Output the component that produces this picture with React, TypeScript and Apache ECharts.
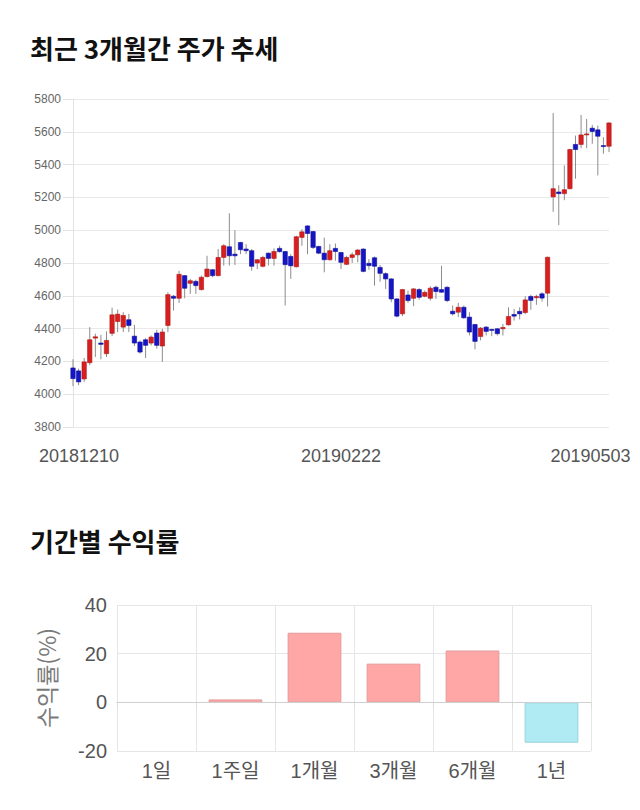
import React, { useEffect, useRef } from "react";
import * as echarts from "echarts";

const dates = [
  "20181210","20181211","20181212","20181213","20181214","20181217","20181218","20181219","20181220","20181221",
  "20181224","20181226","20181227","20181228",
  "20190102","20190103","20190104","20190107","20190108","20190109","20190110","20190111","20190114","20190115",
  "20190116","20190117","20190118","20190121","20190122","20190123","20190124","20190125","20190128","20190129",
  "20190130","20190131",
  "20190201","20190207","20190208","20190211","20190212","20190213","20190214","20190215","20190218","20190219",
  "20190220","20190221","20190222","20190225","20190226","20190227","20190228",
  "20190304","20190305","20190306","20190307","20190308","20190311","20190312","20190313","20190314","20190315",
  "20190318","20190319","20190320","20190321","20190322","20190325","20190326","20190327","20190328","20190329",
  "20190401","20190402","20190403","20190404","20190405","20190408","20190409","20190410","20190411","20190412",
  "20190415","20190416","20190417","20190418","20190419","20190422","20190423","20190424","20190425","20190426",
  "20190429","20190430",
  "20190502","20190503",
];

const opens = [
  4160,4142,4093,4192,4342,4312,4247,4371,4443,4409,
  4454,4354,4318,4332,4312,4373,4294,4419,4597,4585,
  4723,4676,4688,4638,4717,4759,4723,4834,4899,4854,
  4925,4885,4875,4800,4780,4860,4828,4889,4870,4840,
  4777,4956,5026,4992,4901,4860,4820,4889,4864,4792,
  4834,4850,4885,4798,4832,4773,4735,4703,4581,4490,
  4605,4585,4638,4597,4585,4652,4638,4652,4506,4500,
  4530,4470,4425,4352,4409,4395,4399,4399,4423,4486,
  4505,4498,4596,4588,4612,4616,5203,5233,5223,5253,
  5523,5523,5581,5622,5612,5516,5512,
];
const closes = [
  4095,4075,4197,4332,4350,4304,4328,4484,4488,4480,
  4419,4312,4257,4298,4348,4298,4379,4607,4585,4731,
  4646,4692,4662,4713,4763,4723,4834,4905,4844,4844,
  4881,4875,4780,4820,4834,4828,4870,4869,4790,4783,
  4960,4990,4980,4895,4860,4820,4875,4870,4804,4834,
  4850,4879,4749,4784,4780,4737,4703,4581,4476,4638,
  4571,4642,4591,4621,4646,4626,4622,4571,4490,4530,
  4466,4379,4322,4403,4383,4389,4369,4407,4474,4476,
  4490,4575,4572,4596,4586,4835,5253,5223,5247,5492,
  5492,5581,5587,5602,5573,5510,5654,
];
const lows = [
  4049,4055,4075,4176,4227,4213,4227,4354,4379,4379,
  4379,4294,4247,4221,4298,4278,4197,4379,4510,4557,
  4585,4612,4612,4632,4713,4713,4719,4784,4784,4788,
  4854,4854,4753,4763,4773,4784,4784,4864,4541,4703,
  4773,4905,4854,4885,4854,4743,4814,4814,4763,4788,
  4800,4804,4743,4759,4662,4686,4642,4561,4468,4476,
  4557,4537,4577,4591,4571,4581,4618,4561,4480,4470,
  4460,4358,4273,4328,4358,4354,4358,4358,4419,4449,
  4456,4488,4515,4545,4565,4535,5112,5031,5183,5249,
  5314,5500,5500,5527,5334,5466,5476,
];
const highs = [
  4213,4156,4221,4409,4369,4362,4383,4528,4516,4500,
  4490,4423,4328,4342,4358,4393,4399,4622,4605,4753,
  4727,4703,4698,4723,4844,4763,4885,4915,5103,5000,
  4929,4915,4885,4824,4844,4864,4889,4905,4874,4854,
  4966,5006,5030,4996,4905,4955,4915,4919,4868,4844,
  4864,4885,4889,4824,4840,4788,4743,4707,4585,4642,
  4632,4646,4646,4632,4658,4662,4783,4658,4541,4557,
  4541,4500,4429,4409,4415,4399,4403,4429,4530,4520,
  4530,4597,4606,4606,4622,4839,5715,5274,5395,5496,
  5577,5703,5678,5642,5638,5567,5658,
];

const priceTicks = { min: 3800, max: 5800, interval: 200 };

const periods = ["1일", "1주일", "1개월", "3개월", "6개월", "1년"];
const returns = [0, 1.2, 28.6, 15.9, 21.3, -16.6];
const returnTicks = { min: -20, max: 40, interval: 20 };

const UP = "#d71f1f";
const DOWN = "#1515c6";
const NUM_FONT = "'Liberation Sans', Arial, 'Noto Sans CJK KR', sans-serif";
const KR_FONT = "'Noto Sans CJK KR', 'Noto Sans', sans-serif";

export default function App() {
  const ref = useRef<HTMLDivElement>(null);

  useEffect(() => {
    if (!ref.current) return;
    const chart = echarts.init(ref.current, null, { renderer: "svg" });
    const candleData = dates.map((_, i) => [i, opens[i], closes[i], lows[i], highs[i]]);
    const lastIdx = dates.length - 1;

    chart.setOption({
      animation: false,
      backgroundColor: "#ffffff",
      title: [
        {
          text: "최근 3개월간 주가 추세",
          left: 30,
          top: 34,
          padding: 0,
          textStyle: { fontFamily: KR_FONT, fontSize: 26, fontWeight: "bold", color: "#111111" },
        },
        {
          text: "기간별 수익률",
          left: 30,
          top: 527,
          padding: 0,
          textStyle: { fontFamily: KR_FONT, fontSize: 26, fontWeight: "bold", color: "#111111" },
        },
      ],
      grid: [
        { left: 73, top: 99, width: 536, height: 328 },
        { left: 117, top: 605, width: 474, height: 146 },
      ],
      xAxis: [
        {
          type: "category",
          gridIndex: 0,
          data: dates,
          boundaryGap: false,
          axisLine: { show: false },
          axisTick: { show: false },
          splitLine: { show: false },
          axisLabel: {
            interval: (index: number) => index % 48 === 0,
            margin: 20,
            fontFamily: NUM_FONT,
            fontSize: 18,
            color: "#555555",
            formatter: (v: string, i: number) =>
              i === 0 ? "{a|" + v + "}" : i === lastIdx ? "{c|" + v + "}" : "{b|" + v + "}",
            rich: {
              a: { fontFamily: NUM_FONT, fontSize: 18, color: "#555555", padding: [0, 0, 0, 12] },
              b: { fontFamily: NUM_FONT, fontSize: 18, color: "#555555" },
              c: { fontFamily: NUM_FONT, fontSize: 18, color: "#555555", padding: [0, 37, 0, 0] },
            },
          },
        },
        {
          type: "category",
          gridIndex: 1,
          data: periods,
          position: "bottom",
          axisLine: { show: true, lineStyle: { color: "#cccccc" } },
          axisTick: { show: true, length: 7, lineStyle: { color: "#dddddd" } },
          splitLine: { show: true, lineStyle: { color: "#e6e6e6" } },
          axisLabel: { margin: 10, fontFamily: NUM_FONT, fontSize: 20, color: "#555555" },
        },
      ],
      yAxis: [
        {
          type: "value",
          gridIndex: 0,
          min: priceTicks.min,
          max: priceTicks.max,
          interval: priceTicks.interval,
          axisLine: { show: true, lineStyle: { color: "#e3e3e3" } },
          axisTick: { show: true, length: 10, lineStyle: { color: "#e3e3e3" } },
          splitLine: { show: true, lineStyle: { color: "#e9e9e9" } },
          axisLabel: {
            margin: 12,
            fontFamily: NUM_FONT,
            fontSize: 12,
            color: "#666666",
            formatter: (v: number) => String(v),
          },
        },
        {
          type: "value",
          gridIndex: 1,
          min: returnTicks.min,
          max: returnTicks.max,
          interval: returnTicks.interval,
          name: "수익률(%)",
          nameLocation: "middle",
          nameRotate: 90,
          nameGap: 60,
          nameTextStyle: { fontFamily: KR_FONT, fontSize: 23, color: "#7a7a7a" },
          axisLine: { show: false },
          axisTick: { show: false },
          splitLine: { show: true, lineStyle: { color: "#e6e6e6" } },
          axisLabel: { margin: 10, fontFamily: NUM_FONT, fontSize: 20, color: "#555555" },
        },
      ],
      series: [
        {
          type: "custom",
          xAxisIndex: 0,
          yAxisIndex: 0,
          data: candleData,
          encode: { x: 0, y: [1, 2, 3, 4] },
          renderItem: (params: any, api: any) => {
            const x = api.value(0);
            const o = api.value(1);
            const c = api.value(2);
            const lo = api.value(3);
            const hi = api.value(4);
            const pO = api.coord([x, o]);
            const pC = api.coord([x, c]);
            const pL = api.coord([x, lo]);
            const pH = api.coord([x, hi]);
            const w = api.size([1, 0])[0] * 0.78;
            const up = c >= o;
            const top = Math.min(pO[1], pC[1]);
            const h = Math.max(Math.abs(pO[1] - pC[1]), 1);
            return {
              type: "group",
              children: [
                {
                  type: "line",
                  shape: { x1: pH[0], y1: pH[1], x2: pL[0], y2: pL[1] },
                  style: { stroke: "#8c8c8c", lineWidth: 1 },
                },
                {
                  type: "rect",
                  shape: { x: pO[0] - w / 2, y: top, width: w, height: h },
                  style: { fill: up ? UP : DOWN, stroke: up ? "#b01515" : "#0f0f9a", lineWidth: 0.6 },
                },
              ],
            };
          },
        },
        {
          type: "bar",
          xAxisIndex: 1,
          yAxisIndex: 1,
          barWidth: "68%",
          data: returns.map((v) => ({
            value: v,
            itemStyle: {
              color: v >= 0 ? "#ffa6a6" : "#b0eaf3",
              borderColor: v >= 0 ? "#e49a9a" : "#95d3de",
              borderWidth: v === 0 ? 0 : 1,
            },
          })),
          markLine: {
            silent: true,
            symbol: "none",
            label: { show: false },
            lineStyle: { color: "#cfcfcf", type: "solid", width: 1 },
            data: [{ yAxis: 0 }],
          },
        },
      ],
    });

    return () => chart.dispose();
  }, []);

  return (
    <div
      ref={ref}
      style={{ position: "absolute", left: 0, top: 0, width: 640, height: 810 }}
    />
  );
}
